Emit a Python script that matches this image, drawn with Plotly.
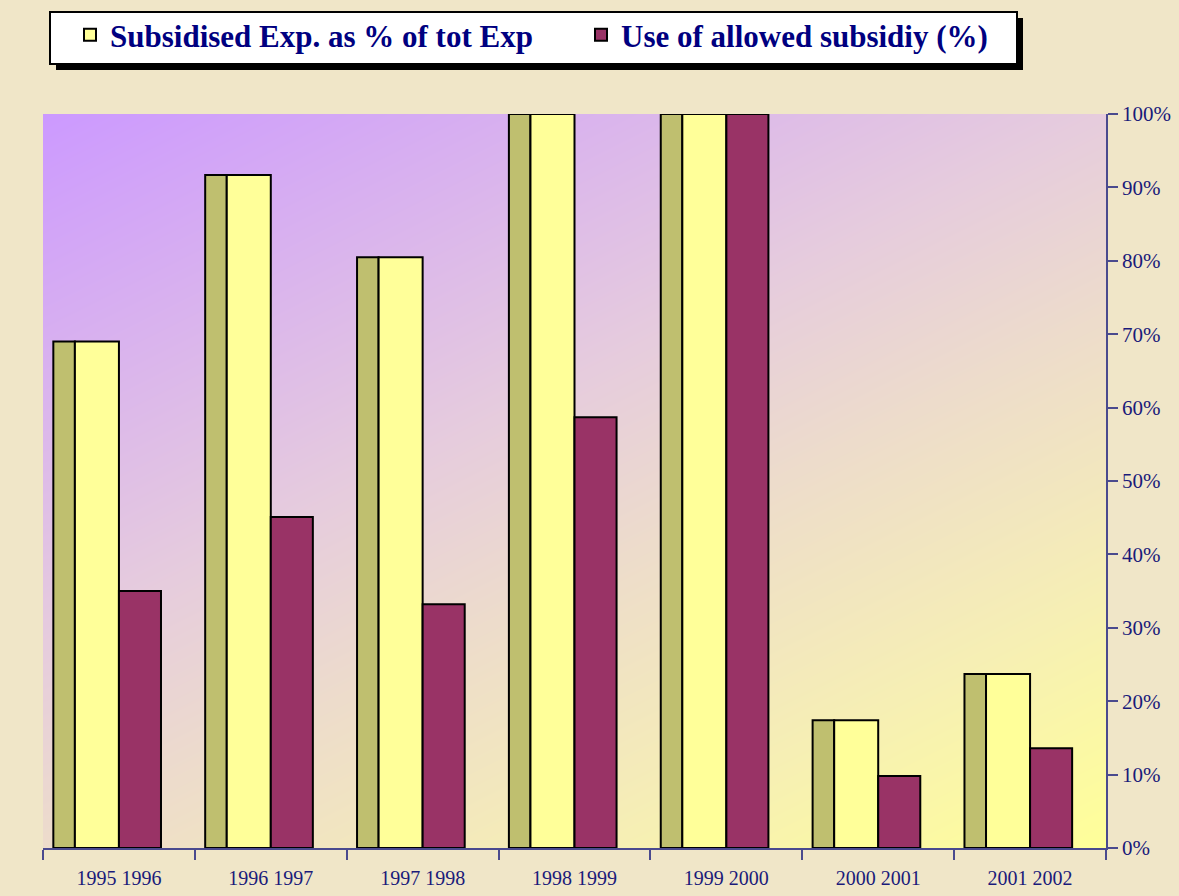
import plotly.graph_objects as go

# ---- data ----
categories = ["1995 1996", "1996 1997", "1997 1998", "1998 1999",
              "1999 2000", "2000 2001", "2001 2002"]
subsidised_exp_pct = [69, 91.7, 80.5, 100, 100, 17.4, 23.7]
use_allowed_subsidy_pct = [35, 45.1, 33.2, 58.7, 100, 9.8, 13.6]
y_tick_vals = [0, 10, 20, 30, 40, 50, 60, 70, 80, 90, 100]
y_tick_text = [f"{v}%" for v in y_tick_vals]

# ---- layout geometry (pixels) ----
W, H = 1179, 896
L, R, T, B = 43, 1106, 114, 848
pw, ph = R - L, B - T

def px_x(p):
    return (p - L) / pw

def px_y(p):
    return (B - p) / ph

navy = "#1A1A7A"
axis_col = "#4A4A8E"
page_bg = "#F0E6C8"

fig = go.Figure()

# background gradient of the plot area (hidden base axes)
fig.add_trace(go.Heatmap(
    x=[0, 1], y=[0, 1],
    z=[[0.58, 1.0], [0.0, 0.42]],
    colorscale=[[0, "#CC99FF"], [0.42, "#E6CCDD"], [0.58, "#EDDCCB"],
                [0.8, "#F6EFB4"], [1, "#FFFF99"]],
    zmin=0, zmax=1, zsmooth="best", showscale=False, hoverinfo="skip",
    xaxis="x", yaxis="y", showlegend=False,
))

# olive side part of the first series
fig.add_trace(go.Bar(
    x=categories, y=subsidised_exp_pct, name="Subsidised Exp. as % of tot Exp",
    legendgroup="s1", showlegend=False,
    marker=dict(color="#BFBF6F", line=dict(color="black", width=2)),
    offset=-0.432, width=0.142, xaxis="x2", yaxis="y2", hoverinfo="skip",
))
fig.add_trace(go.Bar(
    x=categories, y=subsidised_exp_pct, name="Subsidised Exp. as % of tot Exp",
    legendgroup="s1",
    marker=dict(color="#FFFF99", line=dict(color="black", width=2)),
    offset=-0.29, width=0.29, xaxis="x2", yaxis="y2",
))
fig.add_trace(go.Bar(
    x=categories, y=use_allowed_subsidy_pct, name="Use of allowed subsidiy (%)",
    marker=dict(color="#993366", line=dict(color="black", width=2)),
    offset=0.0, width=0.277, xaxis="x2", yaxis="y2",
))

fig.update_layout(
    width=W, height=H,
    paper_bgcolor=page_bg, plot_bgcolor=page_bg,
    margin=dict(l=L, r=W - R, t=T, b=H - B, pad=0, autoexpand=False),
    barmode="overlay",
    font=dict(family="Liberation Serif", color=navy),
    xaxis=dict(range=[0, 1], visible=False, fixedrange=True, automargin=False),
    yaxis=dict(range=[0, 1], visible=False, fixedrange=True, automargin=False),
    xaxis2=dict(
        overlaying="x", side="bottom", type="category",
        range=[-0.5, len(categories) - 0.5], automargin=False,
        showline=True, linecolor=axis_col, linewidth=1.5,
        ticks="outside", tickson="boundaries", ticklen=10, tickcolor=axis_col,
        tickwidth=1.5, showgrid=False, zeroline=False, ticklabelstandoff=11,
        tickfont=dict(family="Liberation Serif", size=20, color=navy),
    ),
    yaxis2=dict(
        overlaying="y", side="right", range=[0, 100], automargin=False,
        tickvals=y_tick_vals, ticktext=y_tick_text,
        showline=True, linecolor=axis_col, linewidth=1.5,
        ticks="outside", ticklen=10, tickcolor=axis_col, tickwidth=1.5,
        showgrid=False, zeroline=False,
        tickfont=dict(family="Liberation Serif", size=21, color=navy),
    ),
    legend=dict(
        orientation="h", x=px_x(70), xanchor="left", y=px_y(35), yanchor="middle",
        bgcolor="rgba(0,0,0,0)", borderwidth=0,
        font=dict(family="Liberation Serif", size=31, color="#000080", weight="bold"),
        entrywidth=466, entrywidthmode="pixels",
    ),
    shapes=[
        dict(type="rect", xref="paper", yref="paper",
             x0=px_x(56), x1=px_x(1023), y0=px_y(70), y1=px_y(18),
             fillcolor="black", line=dict(width=0), layer="above"),
        dict(type="rect", xref="paper", yref="paper",
             x0=px_x(50), x1=px_x(1017), y0=px_y(64), y1=px_y(12),
             fillcolor="white", line=dict(color="black", width=2), layer="above"),
    ],
    showlegend=True,
)

fig.write_html("out.html", config={"displayModeBar": False},
               post_script="document.body.style.margin='0';")
